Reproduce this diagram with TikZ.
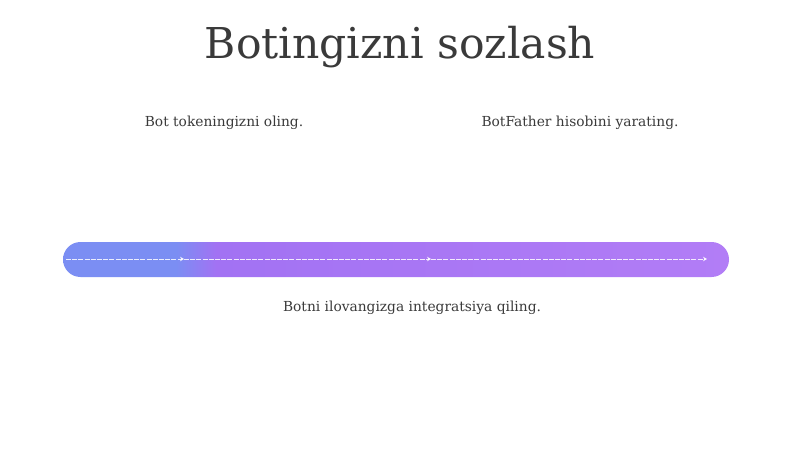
\documentclass[tikz,border=0pt]{standalone}
\usepackage{fontspec}
\setmainfont{DejaVu Serif}
\usetikzlibrary{arrows.meta}
\definecolor{textgray}{HTML}{3A3A3A}
\definecolor{barblue}{HTML}{7B8EF3}
\definecolor{barpurple}{HTML}{A272F3}
\definecolor{barlilac}{HTML}{B27DF6}
\pgfdeclarehorizontalshading{barshade}{100bp}{%
	color(0bp)=(barblue); color(25bp)=(barblue); color(33.5bp)=(barblue);
	color(36.5bp)=(barpurple); color(75bp)=(barlilac); color(100bp)=(barlilac)}
\tikzset{%
	>={Stealth[width=1.6mm,length=1.4mm]},
	% Specifications for style of nodes:
	title/.style = {font=\fontsize{42.5}{50}\selectfont, text=textgray},
	label/.style = {font=\fontsize{13.8}{16}\selectfont, text=textgray},
	flow/.style = {draw=white, draw opacity=0.85, line width=0.7pt, dash pattern=on 5pt off 1.2pt}
}

\begin{document}
\begin{tikzpicture}[x=1pt, y=-1pt]
	\useasboundingbox (0,0) rectangle (800,449);
	% Specification of nodes (position, etc.)
	\node (title)   [title] at (400,47)  {Botingizni sozlash};
	\node (token)   [label] at (224,123) {Bot tokeningizni oling.};
	\node (father)  [label] at (580,123) {BotFather hisobini yarating.};
	\node (bar)     [rounded corners=17.5pt, minimum width=666pt, minimum height=35pt,
		inner sep=0pt, shading=barshade] at (396,259.5) {};
	\node (integr)  [label] at (412,308) {Botni ilovangizga integratsiya qiling.};
	\coordinate (s0) at (66,259);
	\coordinate (s1) at (184,259);
	\coordinate (s2) at (431,259);
	\coordinate (s3) at (707,259);
	
	\draw[flow,->] (s0) -- (s1);
	\draw[flow,->] (s1) -- (s2);
	\draw[flow,->] (s2) -- (s3);
\end{tikzpicture}
\end{document}
